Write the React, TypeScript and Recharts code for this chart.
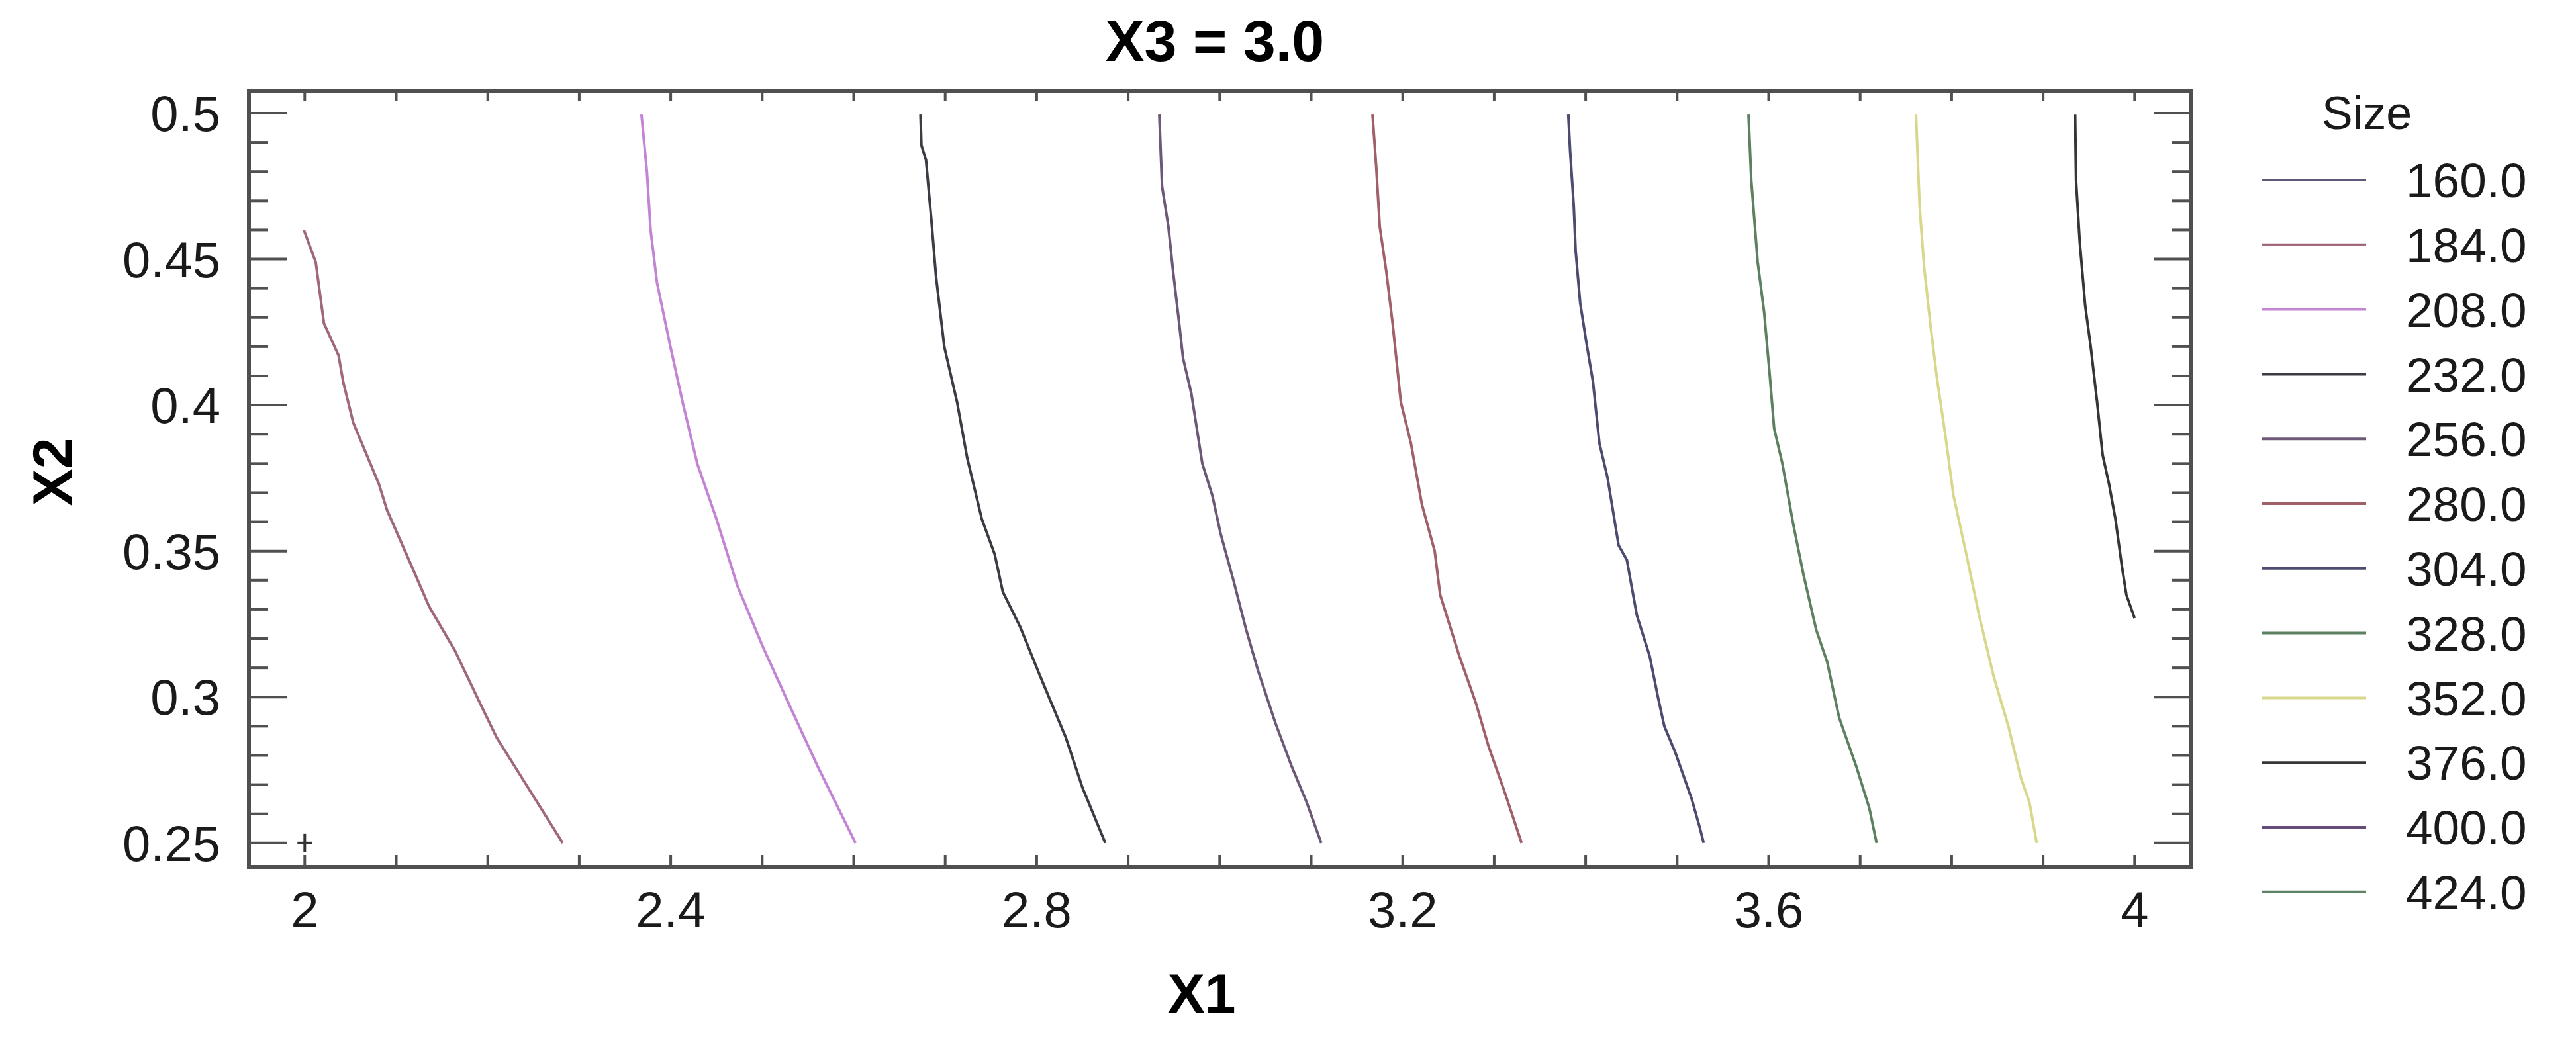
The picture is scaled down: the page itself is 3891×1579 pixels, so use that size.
import React from 'react';
import { ComposedChart, Line, Scatter, XAxis, YAxis, Legend } from 'recharts';

// ---- legend levels and colours ----
const levels = [160, 184, 208, 232, 256, 280, 304, 328, 352, 376, 400, 424];
const levelColors = [
  '#5c5c7a', '#a06878', '#c484d4', '#3c3c44', '#6e5878', '#a0606a',
  '#4c4c70', '#5c8060', '#d8d88c', '#363636', '#664c78', '#5e8266',
];

// ---- axis ticks ----
const xMajorTicks = [2, 2.4, 2.8, 3.2, 3.6, 4];
const xMinorTicks = [2, 2.1, 2.2, 2.3, 2.4, 2.5, 2.6, 2.7, 2.8, 2.9, 3, 3.1, 3.2, 3.3, 3.4, 3.5, 3.6, 3.7, 3.8, 3.9, 4];
const yMajorTicks = [0.25, 0.3, 0.35, 0.4, 0.45, 0.5];
const yMinorTicks = [
  0.26, 0.27, 0.28, 0.29, 0.31, 0.32, 0.33, 0.34, 0.36, 0.37, 0.38, 0.39,
  0.41, 0.42, 0.43, 0.44, 0.46, 0.47, 0.48, 0.49,
];
const xDomain = [1.939, 4.062];
const yDomain = [0.2418, 0.5077];

// ---- contour lines (X1, X2) ----
const c184 = [[1.999, 0.460], [2.012, 0.449], [2.021, 0.428], [2.037, 0.417], [2.042, 0.408], [2.053, 0.394], [2.081, 0.373], [2.090, 0.364], [2.118, 0.344], [2.136, 0.331], [2.164, 0.316], [2.196, 0.295], [2.210, 0.286], [2.238, 0.272], [2.282, 0.250]];
const c208 = [[2.368, 0.4995], [2.374, 0.480], [2.378, 0.460], [2.385, 0.442], [2.399, 0.421], [2.413, 0.401], [2.429, 0.380], [2.450, 0.361], [2.473, 0.338], [2.501, 0.317], [2.533, 0.295], [2.561, 0.276], [2.602, 0.250]];
const c232 = [[2.673, 0.4995], [2.674, 0.489], [2.679, 0.484], [2.685, 0.463], [2.690, 0.444], [2.699, 0.420], [2.713, 0.401], [2.724, 0.382], [2.740, 0.361], [2.754, 0.349], [2.763, 0.336], [2.782, 0.324], [2.804, 0.307], [2.832, 0.286], [2.850, 0.269], [2.875, 0.250]];
const c256 = [[2.934, 0.4995], [2.937, 0.475], [2.944, 0.461], [2.949, 0.446], [2.955, 0.430], [2.960, 0.416], [2.969, 0.404], [2.981, 0.380], [2.992, 0.369], [3.001, 0.356], [3.015, 0.340], [3.029, 0.323], [3.042, 0.309], [3.061, 0.291], [3.079, 0.276], [3.095, 0.264], [3.111, 0.250]];
const c280 = [[3.167, 0.4995], [3.171, 0.482], [3.175, 0.461], [3.182, 0.446], [3.189, 0.428], [3.198, 0.401], [3.209, 0.387], [3.221, 0.366], [3.235, 0.350], [3.241, 0.335], [3.262, 0.314], [3.280, 0.298], [3.294, 0.283], [3.312, 0.267], [3.330, 0.250]];
const c304 = [[3.381, 0.4995], [3.383, 0.487], [3.387, 0.468], [3.389, 0.453], [3.394, 0.435], [3.401, 0.421], [3.408, 0.408], [3.415, 0.387], [3.424, 0.375], [3.436, 0.352], [3.445, 0.347], [3.456, 0.328], [3.470, 0.314], [3.479, 0.300], [3.486, 0.290], [3.498, 0.281], [3.516, 0.265], [3.525, 0.255], [3.529, 0.250]];
const c328 = [[3.578, 0.4995], [3.581, 0.477], [3.588, 0.449], [3.595, 0.432], [3.601, 0.411], [3.606, 0.392], [3.615, 0.380], [3.627, 0.359], [3.638, 0.342], [3.652, 0.323], [3.664, 0.312], [3.677, 0.293], [3.696, 0.276], [3.710, 0.262], [3.718, 0.250]];
const c352 = [[3.761, 0.4995], [3.765, 0.468], [3.770, 0.447], [3.777, 0.427], [3.784, 0.409], [3.793, 0.390], [3.802, 0.369], [3.816, 0.349], [3.830, 0.328], [3.846, 0.307], [3.862, 0.290], [3.876, 0.272], [3.885, 0.264], [3.893, 0.250]];
const c376 = [[3.935, 0.4995], [3.936, 0.477], [3.940, 0.456], [3.946, 0.434], [3.952, 0.420], [3.959, 0.401], [3.965, 0.383], [3.972, 0.373], [3.979, 0.361], [3.986, 0.345], [3.991, 0.335], [4.000, 0.327]];

const designPoints = [[2, 0.25]];

const contourSeries = [
  { level: 184, pts: c184 },
  { level: 208, pts: c208 },
  { level: 232, pts: c232 },
  { level: 256, pts: c256 },
  { level: 280, pts: c280 },
  { level: 304, pts: c304 },
  { level: 328, pts: c328 },
  { level: 352, pts: c352 },
  { level: 376, pts: c376 },
].map((s) => ({
  level: s.level,
  color: levelColors[levels.indexOf(s.level)],
  data: s.pts.map(([x, y]) => ({ x, y })),
}));

const designData = designPoints.map(([x, y]) => ({ x, y }));

const FONT = '"Liberation Sans", Arial, sans-serif';
const FRAME = '#505050';
const W = 3891;
const H = 1579;

const PlusShape = (props: any) => {
  const { cx, cy } = props;
  if (cx == null || cy == null) return null;
  return (
    <g>
      <line x1={cx - 11} x2={cx + 11} y1={cy} y2={cy} stroke="#333" strokeWidth={4} />
      <line x1={cx} x2={cx} y1={cy - 14} y2={cy + 14} stroke="#333" strokeWidth={4} />
    </g>
  );
};

const EmptyTick = () => <g />;

const LegendContent = () => (
  <svg width={491} height={1320} style={{ display: 'block' }}>
    <text x={175} y={75} textAnchor="middle" fontSize={70} fontFamily={FONT} fill="#1a1a1a">
      Size
    </text>
    {levels.map((lv, i) => {
      const cy = 152 + i * 97.8;
      return (
        <g key={lv}>
          <line x1={17} x2={174} y1={cy} y2={cy} stroke={levelColors[i]} strokeWidth={4} />
          <text x={234} y={cy} dy="0.36em" fontSize={73} fontFamily={FONT} fill="#1a1a1a">
            {lv.toFixed(1)}
          </text>
        </g>
      );
    })}
  </svg>
);

const tickStyle = { fontSize: 76, fontFamily: FONT, fill: '#1a1a1a' };
const tickLineStyle = { stroke: FRAME, strokeWidth: 4 };
const frameStyle = { stroke: FRAME, strokeWidth: 6, strokeLinecap: 'square' as const };
const xLabel = (v: number) => (xMajorTicks.some((t) => Math.abs(t - v) < 1e-9) ? String(v) : '');

export default function App() {
  return (
    <div style={{ position: 'absolute', left: 0, top: 0, width: W, height: H, background: '#fff' }}>
      <ComposedChart
        width={W}
        height={H}
        margin={{ top: 136, right: 581, bottom: 0, left: 0 }}
      >
        {/* bottom axis: inward ticks every 0.1, labels every 0.4 */}
        <XAxis
          xAxisId="b"
          dataKey="x"
          type="number"
          domain={xDomain}
          allowDataOverflow
          ticks={xMinorTicks}
          interval={0}
          tickFormatter={xLabel}
          tick={tickStyle}
          tickLine={tickLineStyle}
          axisLine={frameStyle}
          tickSize={-18}
          tickMargin={55}
          height={269}
        />
        {/* top axis: inward ticks */}
        <XAxis
          xAxisId="t"
          dataKey="x"
          type="number"
          orientation="top"
          domain={xDomain}
          allowDataOverflow
          ticks={xMinorTicks}
          interval={0}
          tick={EmptyTick}
          tickLine={tickLineStyle}
          axisLine={frameStyle}
          tickSize={-15}
          height={1}
        />
        {/* labelled left axis */}
        <YAxis
          yAxisId="l"
          type="number"
          domain={yDomain}
          allowDataOverflow
          ticks={yMajorTicks}
          interval={0}
          tickFormatter={(v: number) => String(v)}
          tick={tickStyle}
          tickLine={false}
          axisLine={false}
          tickSize={0}
          tickMargin={43}
          width={376}
        />
        {/* inward tick marks left / right */}
        <YAxis
          yAxisId="lmaj"
          type="number"
          domain={yDomain}
          allowDataOverflow
          ticks={yMajorTicks}
          interval={0}
          orientation="left"
          mirror
          width={1}
          tick={EmptyTick}
          tickSize={57}
          tickLine={tickLineStyle}
          axisLine={frameStyle}
        />
        <YAxis
          yAxisId="lmin"
          type="number"
          domain={yDomain}
          allowDataOverflow
          ticks={yMinorTicks}
          interval={0}
          orientation="left"
          mirror
          width={1}
          tick={EmptyTick}
          tickSize={28}
          tickLine={tickLineStyle}
          axisLine={false}
        />
        <YAxis
          yAxisId="rmaj"
          type="number"
          domain={yDomain}
          allowDataOverflow
          ticks={yMajorTicks}
          interval={0}
          orientation="right"
          mirror
          width={1}
          tick={EmptyTick}
          tickSize={57}
          tickLine={tickLineStyle}
          axisLine={frameStyle}
        />
        <YAxis
          yAxisId="rmin"
          type="number"
          domain={yDomain}
          allowDataOverflow
          ticks={yMinorTicks}
          interval={0}
          orientation="right"
          mirror
          width={1}
          tick={EmptyTick}
          tickSize={28}
          tickLine={tickLineStyle}
          axisLine={false}
        />

        {contourSeries.map((s) => (
          <Line
            key={s.level}
            xAxisId="b"
            yAxisId="l"
            data={s.data}
            dataKey="y"
            name={`${s.level.toFixed(1)}`}
            type="linear"
            stroke={s.color}
            strokeWidth={4}
            dot={false}
            activeDot={false}
            isAnimationActive={false}
          />
        ))}
        <Scatter
          xAxisId="t"
          yAxisId="l"
          data={designData}
          dataKey="y"
          shape={PlusShape}
          isAnimationActive={false}
        />
        <Legend
          layout="horizontal"
          verticalAlign="middle"
          align="center"
          content={LegendContent}
          wrapperStyle={{ left: 3400, top: 120, width: 491, height: 1320 }}
        />
      </ComposedChart>
      <svg
        width={W}
        height={H}
        style={{ position: 'absolute', left: 0, top: 0, pointerEvents: 'none' }}
      >
        <text x={1835} y={92} textAnchor="middle" fontSize={88} fontWeight="bold" fontFamily={FONT} fill="#000">
          X3 = 3.0
        </text>
        <text x={1815} y={1530} textAnchor="middle" fontSize={84} fontWeight="bold" fontFamily={FONT} fill="#000">
          X1
        </text>
        <text
          x={108}
          y={713}
          textAnchor="middle"
          fontSize={84}
          fontWeight="bold"
          fontFamily={FONT}
          fill="#000"
          transform="rotate(-90, 108, 713)"
        >
          X2
        </text>
      </svg>
    </div>
  );
}
